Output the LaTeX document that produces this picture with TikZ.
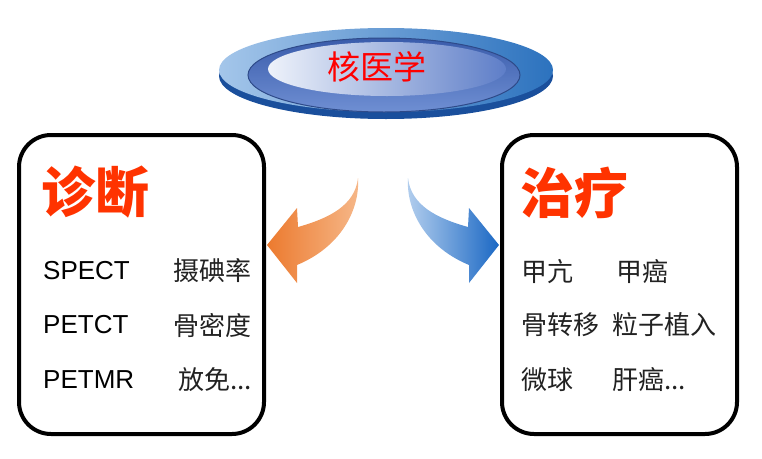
\documentclass[tikz,border=0pt]{standalone}
\usepackage{fontspec}
\setmainfont{Liberation Sans}
\newfontfamily\cjk{Noto Sans CJK SC}
\definecolor{titlered}{HTML}{FF3300}
\definecolor{orgdark}{HTML}{EC7A2E}
\definecolor{orglight}{HTML}{F6B88A}
\definecolor{bluelight}{HTML}{B4CFEE}
\definecolor{bluedark}{HTML}{1B68C4}
\definecolor{ringlight}{HTML}{A4C6EA}
\definecolor{ringdark}{HTML}{2C72BE}
\definecolor{rimdark}{HTML}{1A4F9C}
\definecolor{innerdark}{HTML}{3A5CAB}
\definecolor{innermid}{HTML}{6F8FD3}
\definecolor{capwhite}{HTML}{EEF2FA}
\definecolor{capblue}{HTML}{5E7EC8}
\definecolor{itemgray}{HTML}{222222}
\begin{document}
\begin{tikzpicture}[x=1pt,y=-1pt,
  box/.style={draw=black, line width=4pt, rounded corners=32pt, inner sep=0pt, minimum height=299pt},
  title/.style={anchor=west, inner sep=0pt, text=titlered, font=\cjk\bfseries\fontsize{54}{60}\selectfont},
  latin/.style={anchor=west, inner sep=0pt, text=black, font=\fontsize{26}{30}\selectfont},
  cjkitem/.style={inner sep=0pt, text=itemgray, font=\cjk\fontsize{26}{30}\selectfont}]
\useasboundingbox (0,0) rectangle (762,458);
% ---- top disc ----
\fill[rimdark] (386,76) ellipse [x radius=167pt, y radius=43pt];
\shade[shading angle=45, left color=ringlight, right color=ringdark] (386,70) ellipse [x radius=167pt, y radius=42pt];
\shade[top color=innerdark, bottom color=innermid] (384,75) ellipse [x radius=136pt, y radius=37pt];
\draw[line width=1pt, innerdark!80!black] (384,75) ellipse [x radius=136pt, y radius=37pt];
\shade[shading angle=60, left color=capwhite, right color=capblue] (387,69) ellipse [x radius=119pt, y radius=27pt];
\node[inner sep=0pt, text=red, font=\cjk\fontsize{33}{36}\selectfont] (nm) at (377,67) {核医学};
% ---- boxes ----
\node[box, minimum width=245pt] (diag) at (141.5,284.5) {};
\node[box, minimum width=235pt] (ther) at (619.5,284.5) {};
% ---- arrows ----
\shade[left color=orgdark, right color=orglight]
  (267,245) -- (297,208) -- (298,227) .. controls (330,218) and (355,205) .. (358,178)
  .. controls (360,205) and (345,245) .. (297,265) -- (297,283) -- cycle;
\shade[left color=bluelight, right color=bluedark]
  (499,245) -- (469,208) -- (468,227) .. controls (436,218) and (411,205) .. (408,178)
  .. controls (406,205) and (421,245) .. (469,265) -- (469,283) -- cycle;
% ---- left box text ----
\node[title] (t1) at (41,192) {诊断};
\node[latin] (l1) at (43,271) {SPECT};
\node[latin] (l2) at (43,325) {PETCT};
\node[latin] (l3) at (43,380) {PETMR};
\node[cjkitem, anchor=east] (r1) at (252,271) {摄碘率};
\node[cjkitem, anchor=east] (r2) at (252,325) {骨密度};
\node[cjkitem, anchor=east] (r3) at (252,380) {放免...};
% ---- right box text ----
\node[title] (t2) at (520,193) {治疗};
\node[cjkitem, anchor=west] (a1) at (521,272) {甲亢};
\node[cjkitem, anchor=west] (b1) at (616,272) {甲癌};
\node[cjkitem, anchor=west] (a2) at (521,325) {骨转移};
\node[cjkitem, anchor=west] (b2) at (612,325) {粒子植入};
\node[cjkitem, anchor=west] (a3) at (521,380) {微球};
\node[cjkitem, anchor=west] (b3) at (612,380) {肝癌...};
\end{tikzpicture}
\end{document}
